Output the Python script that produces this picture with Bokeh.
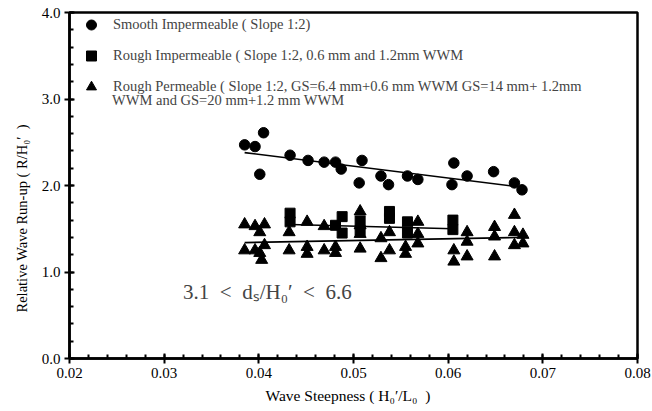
from bokeh.plotting import figure
from bokeh.models import Legend, LegendItem, Label, Title, FixedTicker, NumeralTickFormatter
from bokeh.embed import file_html
from bokeh.resources import INLINE

# ---- data ----
smooth_x = [0.0385, 0.0396, 0.0405, 0.0401, 0.0433, 0.0452, 0.0469, 0.0481, 0.0487, 0.0509, 0.0506,
            0.0529, 0.0537, 0.0557, 0.0568, 0.0606, 0.0604, 0.0620, 0.0648, 0.0670, 0.0678]
smooth_y = [2.47, 2.45, 2.61, 2.13, 2.35, 2.29, 2.27, 2.27, 2.19, 2.29, 2.03,
            2.11, 2.01, 2.11, 2.07, 2.26, 2.01, 2.11, 2.16, 2.03, 1.95]

rough_x = [0.0433, 0.0433, 0.0481, 0.0488, 0.0488, 0.0507, 0.0507, 0.0538, 0.0538, 0.0557, 0.0557, 0.0605, 0.0605]
rough_y = [1.68, 1.58, 1.54, 1.64, 1.45, 1.59, 1.48, 1.70, 1.62, 1.58, 1.45, 1.60, 1.49]

perm_x = [0.0385, 0.0385, 0.0396, 0.0396, 0.0401, 0.0401, 0.0403, 0.0406, 0.0406,
          0.0432, 0.0432, 0.0451, 0.0451, 0.0451, 0.0469, 0.0469, 0.0481, 0.0481,
          0.0507, 0.0507, 0.0507, 0.0507, 0.0529, 0.0529, 0.0538, 0.0538, 0.0555, 0.0555,
          0.0568, 0.0568, 0.0568, 0.0606, 0.0606, 0.0620, 0.0620, 0.0620,
          0.0649, 0.0649, 0.0649, 0.0670, 0.0670, 0.0670, 0.0679, 0.0679]
perm_y = [1.55, 1.25, 1.53, 1.25, 1.46, 1.22, 1.14, 1.55, 1.31,
          1.46, 1.25, 1.58, 1.29, 1.21, 1.53, 1.25, 1.29, 1.22,
          1.70, 1.54, 1.44, 1.27, 1.39, 1.16, 1.46, 1.25, 1.29, 1.21,
          1.58, 1.44, 1.33, 1.25, 1.12, 1.46, 1.35, 1.18,
          1.52, 1.41, 1.18, 1.66, 1.46, 1.31, 1.43, 1.33]

smooth_fit_x = [0.0385, 0.0670]
smooth_fit_y = [2.38, 1.99]
rough_fit_x = [0.0433, 0.0605]
rough_fit_y = [1.55, 1.50]
perm_fit_x = [0.0385, 0.0679]
perm_fit_y = [1.34, 1.40]

x_ticks = [0.02, 0.03, 0.04, 0.05, 0.06, 0.07, 0.08]
y_ticks = [0.0, 1.0, 2.0, 3.0, 4.0]

labels = ["Smooth Impermeable ( Slope 1:2)",
          "Rough Impermeable ( Slope 1:2, 0.6 mm and 1.2mm WWM",
          "Rough Permeable ( Slope 1:2, GS=6.4 mm+0.6 mm WWM GS=14 mm+ 1.2mm"]
label_cont = "WWM and GS=20 mm+1.2 mm WWM"
range_note = "3.1\u2002<\u2002d\u209b/H\u2080\u2032\u2002<\u20026.6"
x_title = "Wave Steepness ( H\u2080\u2032/L\u2080\u2002)"
y_title = "Relative Wave Run-up ( R/H\u2080\u2032\u2002)"

SERIF = "Liberation Serif"

p = figure(width=652, height=411, x_range=(0.02, 0.08), y_range=(0, 4),
           output_backend="svg", toolbar_location=None,
           min_border_left=69, min_border_right=15, min_border_top=12, min_border_bottom=53)
p.grid.visible = False
p.outline_line_color = "black"
p.outline_line_width = 2.5
p.background_fill_color = "white"
p.border_fill_color = "white"

for ax in (p.xaxis[0], p.yaxis[0]):
    ax.axis_line_width = 2.5
    ax.major_tick_line_width = 2
    ax.minor_tick_line_width = 2
    ax.major_tick_in = 5
    ax.major_tick_out = 5
    ax.minor_tick_in = 4
    ax.minor_tick_out = 0
    ax.major_label_text_font = SERIF
    ax.major_label_text_font_size = "15px"
    ax.major_label_text_color = "black"

p.xaxis.ticker = FixedTicker(ticks=x_ticks, minor_ticks=[0.02 + 0.002 * i for i in range(31)])
p.yaxis.ticker = FixedTicker(ticks=y_ticks, minor_ticks=[0.2 * i for i in range(21)])
p.xaxis.formatter = NumeralTickFormatter(format="0.00")
p.yaxis.formatter = NumeralTickFormatter(format="0.0")
p.xaxis.major_label_standoff = 4
p.yaxis.major_label_standoff = 4

r1 = p.scatter(smooth_x, smooth_y, marker="circle", size=10.5, color="black")
r2 = p.scatter(rough_x, rough_y, marker="square", size=10, color="black")
r3 = p.scatter(perm_x, perm_y, marker="triangle", size=12, color="black")

p.line(smooth_fit_x, smooth_fit_y, line_color="black", line_width=1.6)
p.line(rough_fit_x, rough_fit_y, line_color="black", line_width=1.6)
p.line(perm_fit_x, perm_fit_y, line_color="black", line_width=1.6)

legend = Legend(items=[LegendItem(label=labels[0], renderers=[r1]),
                       LegendItem(label=labels[1], renderers=[r2]),
                       LegendItem(label=labels[2], renderers=[r3])],
                location="top_left", margin=0, padding=0, spacing=6,
                glyph_width=44, glyph_height=25, label_height=25, label_standoff=0,
                label_text_font=SERIF, label_text_font_size="14.5px",
                background_fill_alpha=0, border_line_alpha=0)
p.add_layout(legend)

p.add_layout(Label(x=0.0245, y=2.985, text=label_cont, text_font=SERIF, text_font_size="14.5px",
                   text_baseline="middle", text_align="left"))
p.add_layout(Label(x=0.0320, y=0.77, text=range_note, text_font=SERIF, text_font_size="21px",
                   text_baseline="middle", text_align="left"))

p.add_layout(Title(text=x_title, align="left", offset=196, standoff=9,
                   text_font=SERIF, text_font_size="15.5px", text_font_style="normal",
                   text_color="black"), "below")
p.add_layout(Title(text=y_title, align="left", offset=46, standoff=17,
                   text_font=SERIF, text_font_size="14.5px", text_font_style="normal",
                   text_color="black"), "left")

open("out.html", "w").write(file_html(p, INLINE))
